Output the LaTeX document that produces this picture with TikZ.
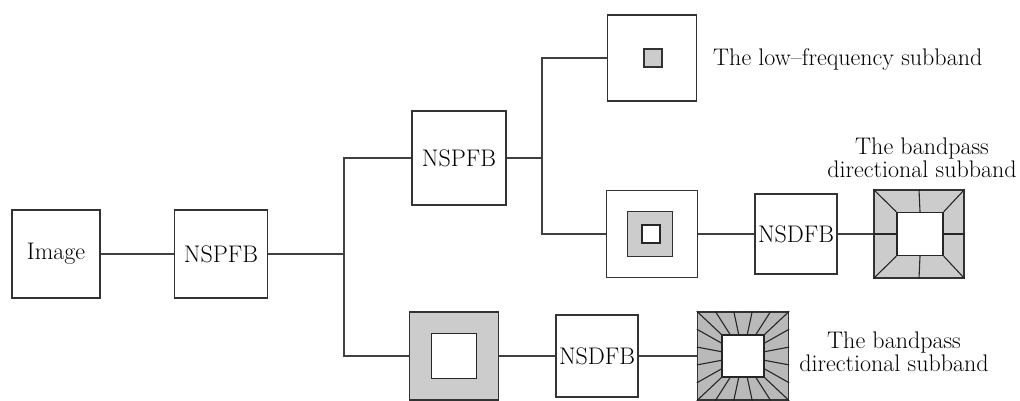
\documentclass[tikz,border=0pt]{standalone}
\usepackage{tikz}
\usetikzlibrary{calc}
\tikzset{
 txt/.style={font=\fontsize{24}{23}\selectfont,inner sep=0pt},
 blk/.style={txt,draw=black!80,line width=1.4pt,fill=white},
 band/.style={draw=black!80,line width=1.4pt,fill=gray!40,inner sep=0pt},
 hole/.style={draw=black!85,line width=1.3pt,fill=white,inner sep=0pt},
 wire/.style={black!75,line width=1.2pt},
 ray/.style={black!85,line width=1.1pt}
}
\begin{document}
\begin{tikzpicture}[x=1pt,y=-1pt]
\useasboundingbox(0,0)rectangle(1020,401);
\node[blk,minimum width=88,minimum height=88](img)at(56,254){Image};
\node[blk,minimum width=93,minimum height=88](spf1)at(221,254){NSPFB};
\node[blk,minimum width=94,minimum height=94](spf2)at(459,158){NSPFB};
\node[blk,minimum width=89,minimum height=86](lowf)at(652,58){};
\node[band,minimum size=18](lowfc)at(653,58){};
\node[txt,anchor=west](lowft)at(713,60){The low--frequency subband};
\node[blk,minimum width=91,minimum height=87](midb)at(652,234){};
\node[band,minimum size=45](midr)at(650,234){};
\node[hole,minimum size=18](midh)at(651,234){};
\node[blk,minimum width=82,minimum height=80](sdf1)at(796,234){NSDFB};
\node[band,minimum width=90,minimum height=88](dir1)at(919,234){};
\node[hole,minimum width=46,minimum height=43](dir1h)at(920,234){};
\node[txt,align=center](dir1t)at(922,158){The bandpass\\directional subband};
\node[band,minimum width=89,minimum height=88](hib)at(454,356){};
\node[hole,minimum size=45](hibh)at(454,356){};
\node[blk,minimum width=82,minimum height=82](sdf2)at(597,356){NSDFB};
\node[band,fill=gray!55,minimum width=91,minimum height=88](dir2)at(743,356){};
\node[hole,minimum size=42](dir2h)at(743,356){};
\node[txt,align=center](dir2t)at(894,352){The bandpass\\directional subband};
\coordinate(ja)at(344,254);\coordinate(jb)at(542,158);
\draw[wire](img)--(spf1);\draw[wire](spf1)--(ja);
\draw[wire](spf2.west)-|(ja)|-(hib.west);
\draw[wire](hib)--(sdf2);\draw[wire](sdf2)--(dir2);
\draw[wire](spf2)--(jb);\draw[wire](lowf.west)-|(jb)|-(midb.west);
\draw[wire](midb)--(sdf1);\draw[wire](sdf1)--(dir1);
\foreach\c in{north west,north east,south west,south east,north,south,east,west}{\draw[ray](dir1.\c)--(dir1h.\c);}
\foreach\c in{north west,north east,south west,south east}{\draw[ray](dir2.\c)--(dir2h.\c);}
\foreach\f in{0.2,0.4,0.6,0.8}{
\draw[ray]($(dir2.north west)!\f!(dir2.north east)$)--($(dir2h.north west)!\f!(dir2h.north east)$);
\draw[ray]($(dir2.south west)!\f!(dir2.south east)$)--($(dir2h.south west)!\f!(dir2h.south east)$);
\draw[ray]($(dir2.north west)!\f!(dir2.south west)$)--($(dir2h.north west)!\f!(dir2h.south west)$);
\draw[ray]($(dir2.north east)!\f!(dir2.south east)$)--($(dir2h.north east)!\f!(dir2h.south east)$);}
\end{tikzpicture}
\end{document}
